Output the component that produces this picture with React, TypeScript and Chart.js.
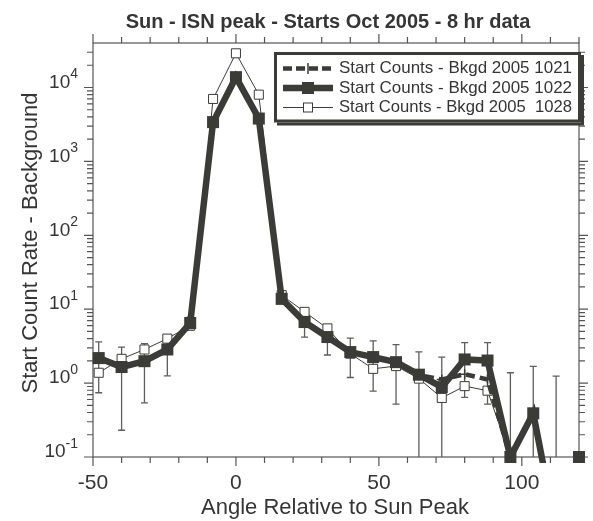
import React, { useEffect, useRef } from 'react';
import { Chart, registerables } from 'chart.js';

Chart.register(...registerables);

// ---------------- data ----------------
const angles = [-48, -40, -32, -24, -16, -8, 0, 8, 16, 24, 32, 40, 48, 56, 64, 72, 80, 88, 96, 104, 112, 120];
const bkgd1021 = [2.15, 1.65, 2.0, 2.85, 6.4, 3400, 13500, 3700, 13.5, 6.6, 4.2, 2.6, 2.25, 1.9, 1.28, 1.12, 1.32, 1.12, 0.1, 0.38, 0.01, 0.1];
const bkgd1022 = [2.18, 1.65, 1.98, 2.85, 6.5, 3400, 13800, 3800, 13.8, 6.7, 4.2, 2.63, 2.25, 1.92, 1.3, 0.88, 2.09, 2.02, 0.1, 0.39, 0.01, 0.1];
const bkgd1022Err = [1.44, 1.42, 1.44, 1.6, 1.3, 120, 250, 130, 1.5, 2.5, 1.8, 1.44, 1.47, 1.4, 1.34, 1.37, 1.45, 1.5, 1.28, 1.29, 1.23, 0];
const bkgd1028 = [1.38, 2.13, 2.85, 4.0, 6.0, 7000, 29000, 8000, 15.5, 9.2, 5.5, 2.5, 1.56, 1.7, 1.15, 0.63, 0.91, 0.79, 0.1, 0.39, 0.01, 0.1];

const seriesLabels = ['Start Counts - Bkgd 2005 1021', 'Start Counts - Bkgd 2005 1022', 'Start Counts - Bkgd 2005  1028'];
const xTickLabels = ['-50', '0', '50', '100'];
const xMajorValues = [-50, 0, 50, 100];
const yDecades = [-1, 0, 1, 2, 3, 4];
const X_MIN = -50;
const X_MAX = 120;
const X_MINOR_STEP = 10;
const Y_MIN = 0.1;
const Y_MAX = 40000;

const chartTitle = 'Sun - ISN peak - Starts Oct 2005 - 8 hr data';
const xTitle = 'Angle Relative to Sun Peak';
const yTitle = 'Start Count Rate - Background';

const INK = '#3b3b37';
const TEXT = '#353535';
const AXIS = '#555555';
const FONT = '"Liberation Sans", Arial, Helvetica, sans-serif';

const decorPlugin = {
  id: 'decor',
  beforeDatasetsDraw(chart: any) {
    const { ctx, chartArea: a, scales } = chart;
    const x = scales.x;
    const y = scales.y;
    ctx.save();
    // frame
    ctx.strokeStyle = AXIS;
    ctx.lineWidth = 1.2;
    ctx.strokeRect(a.left, a.top, a.right - a.left, a.bottom - a.top);
    // x ticks (bottom & top, outward)
    ctx.beginPath();
    for (let v = X_MIN; v <= X_MAX; v += X_MINOR_STEP) {
      const px = x.getPixelForValue(v);
      const len = xMajorValues.includes(v) ? 9 : 6;
      ctx.moveTo(px, a.bottom);
      ctx.lineTo(px, a.bottom + len);
      ctx.moveTo(px, a.top);
      ctx.lineTo(px, a.top - len);
    }
    // y ticks (left & right, outward)
    for (const d of yDecades) {
      for (let m = 1; m <= 9; m++) {
        const v = m * Math.pow(10, d);
        if (v < Y_MIN * 0.999 || v > Y_MAX * 0.999) continue;
        const py = y.getPixelForValue(v);
        const len = m === 1 ? 9 : 6;
        ctx.moveTo(a.left - len, py);
        ctx.lineTo(a.left, py);
        ctx.moveTo(a.right, py);
        ctx.lineTo(a.right + len, py);
      }
    }
    ctx.stroke();

    // y tick labels 10^n
    ctx.fillStyle = TEXT;
    ctx.textBaseline = 'middle';
    ctx.textAlign = 'right';
    const rightEdge = a.left - 15;
    for (const d of yDecades) {
      const py = y.getPixelForValue(Math.pow(10, d));
      const exp = String(d);
      ctx.font = `14px ${FONT}`;
      const ew = ctx.measureText(exp).width;
      ctx.fillText(exp, rightEdge, py - 13);
      ctx.font = `19px ${FONT}`;
      ctx.fillText('10', rightEdge - ew, py - 5);
    }

    // error bars for 1022 series
    ctx.beginPath();
    ctx.rect(a.left, a.top, a.right - a.left, a.bottom - a.top);
    ctx.clip();
    ctx.strokeStyle = '#5e5e5a';
    ctx.lineWidth = 1.3;
    ctx.beginPath();
    angles.forEach((ang, i) => {
      const v = bkgd1022[i];
      const e = bkgd1022Err[i];
      if (!e) return;
      const px = x.getPixelForValue(ang);
      const top = y.getPixelForValue(v + e);
      const lowV = v - e;
      const bot = lowV > 0 ? y.getPixelForValue(lowV) : a.bottom + 2;
      ctx.moveTo(px, top);
      ctx.lineTo(px, bot);
      ctx.moveTo(px - 3.5, top);
      ctx.lineTo(px + 3.5, top);
      if (lowV > 0) {
        ctx.moveTo(px - 3.5, bot);
        ctx.lineTo(px + 3.5, bot);
      }
    });
    ctx.stroke();
    ctx.restore();
  },
  afterDraw(chart: any) {
    const { ctx, chartArea: a } = chart;
    ctx.save();
    ctx.fillStyle = TEXT;
    // title
    ctx.font = `bold 20px ${FONT}`;
    ctx.textAlign = 'center';
    ctx.textBaseline = 'alphabetic';
    ctx.fillText(chartTitle, 328, 28, 405);
    // x title
    ctx.font = `22px ${FONT}`;
    ctx.textBaseline = 'middle';
    ctx.fillText(xTitle, 335, 508);
    // y title
    ctx.save();
    ctx.translate(31, 243);
    ctx.rotate(-Math.PI / 2);
    ctx.fillText(yTitle, 0, 0);
    ctx.restore();

    // legend
    const lx = 274, ly = 52, lw = 307, lh = 70.5;
    ctx.fillStyle = INK;
    ctx.fillRect(lx + 3, ly + 3, lw, lh);
    ctx.fillStyle = '#ffffff';
    ctx.fillRect(lx, ly, lw, lh);
    ctx.strokeStyle = INK;
    ctx.lineWidth = 3;
    ctx.strokeRect(lx + 1.5, ly + 1.5, lw - 3, lh - 3);

    const rows = [68.5, 88, 107.5];
    const sx0 = 283, sx1 = 333, mx = 308;
    // row 1 dashed with cross
    ctx.strokeStyle = INK;
    ctx.lineWidth = 4.5;
    ctx.setLineDash([9, 4]);
    ctx.beginPath();
    ctx.moveTo(sx0, rows[0]);
    ctx.lineTo(sx1, rows[0]);
    ctx.stroke();
    ctx.setLineDash([]);
    ctx.lineWidth = 1.5;
    ctx.beginPath();
    ctx.moveTo(mx, rows[0] - 5.5);
    ctx.lineTo(mx, rows[0] + 5.5);
    ctx.stroke();
    // row 2 thick with square
    ctx.lineWidth = 6.5;
    ctx.beginPath();
    ctx.moveTo(sx0, rows[1]);
    ctx.lineTo(sx1, rows[1]);
    ctx.stroke();
    ctx.fillStyle = INK;
    ctx.fillRect(mx - 6, rows[1] - 6, 12, 12);
    // row 3 thin with open square
    ctx.lineWidth = 1;
    ctx.beginPath();
    ctx.moveTo(sx0, rows[2]);
    ctx.lineTo(sx1, rows[2]);
    ctx.stroke();
    ctx.fillStyle = '#ffffff';
    ctx.fillRect(mx - 4.5, rows[2] - 4.5, 9, 9);
    ctx.strokeRect(mx - 4.5, rows[2] - 4.5, 9, 9);

    ctx.fillStyle = TEXT;
    ctx.font = `17px ${FONT}`;
    ctx.textAlign = 'left';
    ctx.textBaseline = 'middle';
    seriesLabels.forEach((t, i) => {
      ctx.fillText(t, 339, rows[i], 233);
    });
    ctx.restore();
  },
};

export default function App() {
  const canvasRef = useRef<HTMLCanvasElement | null>(null);

  useEffect(() => {
    const canvas = canvasRef.current;
    if (!canvas) return;
    const mk = (vals: number[]) => angles.map((a, i) => ({ x: a, y: vals[i] }));
    const clip = { left: 6, top: 6, right: 6, bottom: 6 };
    const chart = new Chart(canvas, {
      type: 'line',
      data: {
        datasets: [
          {
            label: seriesLabels[0],
            data: mk(bkgd1021),
            borderColor: INK,
            backgroundColor: INK,
            borderWidth: 4.5,
            borderDash: [9, 5],
            pointStyle: 'cross',
            pointRadius: 5,
            pointBorderWidth: 1.5,
            pointBorderColor: INK,
            tension: 0,
            clip,
          },
          {
            label: seriesLabels[1],
            data: mk(bkgd1022),
            borderColor: INK,
            backgroundColor: INK,
            borderWidth: 6.5,
            pointStyle: 'rect',
            pointRadius: 8.5,
            pointBorderWidth: 0,
            pointBackgroundColor: INK,
            tension: 0,
            clip,
          },
          {
            label: seriesLabels[2],
            data: mk(bkgd1028),
            borderColor: INK,
            backgroundColor: '#ffffff',
            borderWidth: 1,
            pointStyle: 'rect',
            pointRadius: 6.4,
            pointBorderWidth: 1,
            pointBorderColor: INK,
            pointBackgroundColor: '#ffffff',
            tension: 0,
            clip,
          },
        ],
      },
      options: {
        responsive: false,
        animation: false,
        devicePixelRatio: 1,
        layout: { padding: { top: 43, right: 10, left: 0, bottom: 0 } },
        plugins: {
          legend: { display: false },
          tooltip: { enabled: false },
          title: { display: false },
        },
        scales: {
          x: {
            type: 'linear',
            min: X_MIN,
            max: X_MAX,
            grid: { display: false, drawTicks: false },
            border: { display: false },
            afterFit: (s: any) => { s.height = 64; },
            ticks: {
              stepSize: X_MINOR_STEP,
              autoSkip: false,
              maxRotation: 0,
              padding: 14,
              color: TEXT,
              font: { size: 21, family: FONT },
              callback: (v: any) => {
                const idx = xMajorValues.indexOf(Number(v));
                return idx >= 0 ? xTickLabels[idx] : '';
              },
            },
          },
          y: {
            type: 'logarithmic',
            min: Y_MIN,
            max: Y_MAX,
            grid: { display: false, drawTicks: false },
            border: { display: false },
            afterFit: (s: any) => { s.width = 93; },
            ticks: { display: false },
          },
        },
      },
      plugins: [decorPlugin],
    } as any);
    return () => chart.destroy();
  }, []);

  return (
    <div style={{ position: 'absolute', left: 0, top: 0, width: 593, height: 521, background: '#fff' }}>
      <canvas ref={canvasRef} width={593} height={521} style={{ display: 'block' }} />
    </div>
  );
}
